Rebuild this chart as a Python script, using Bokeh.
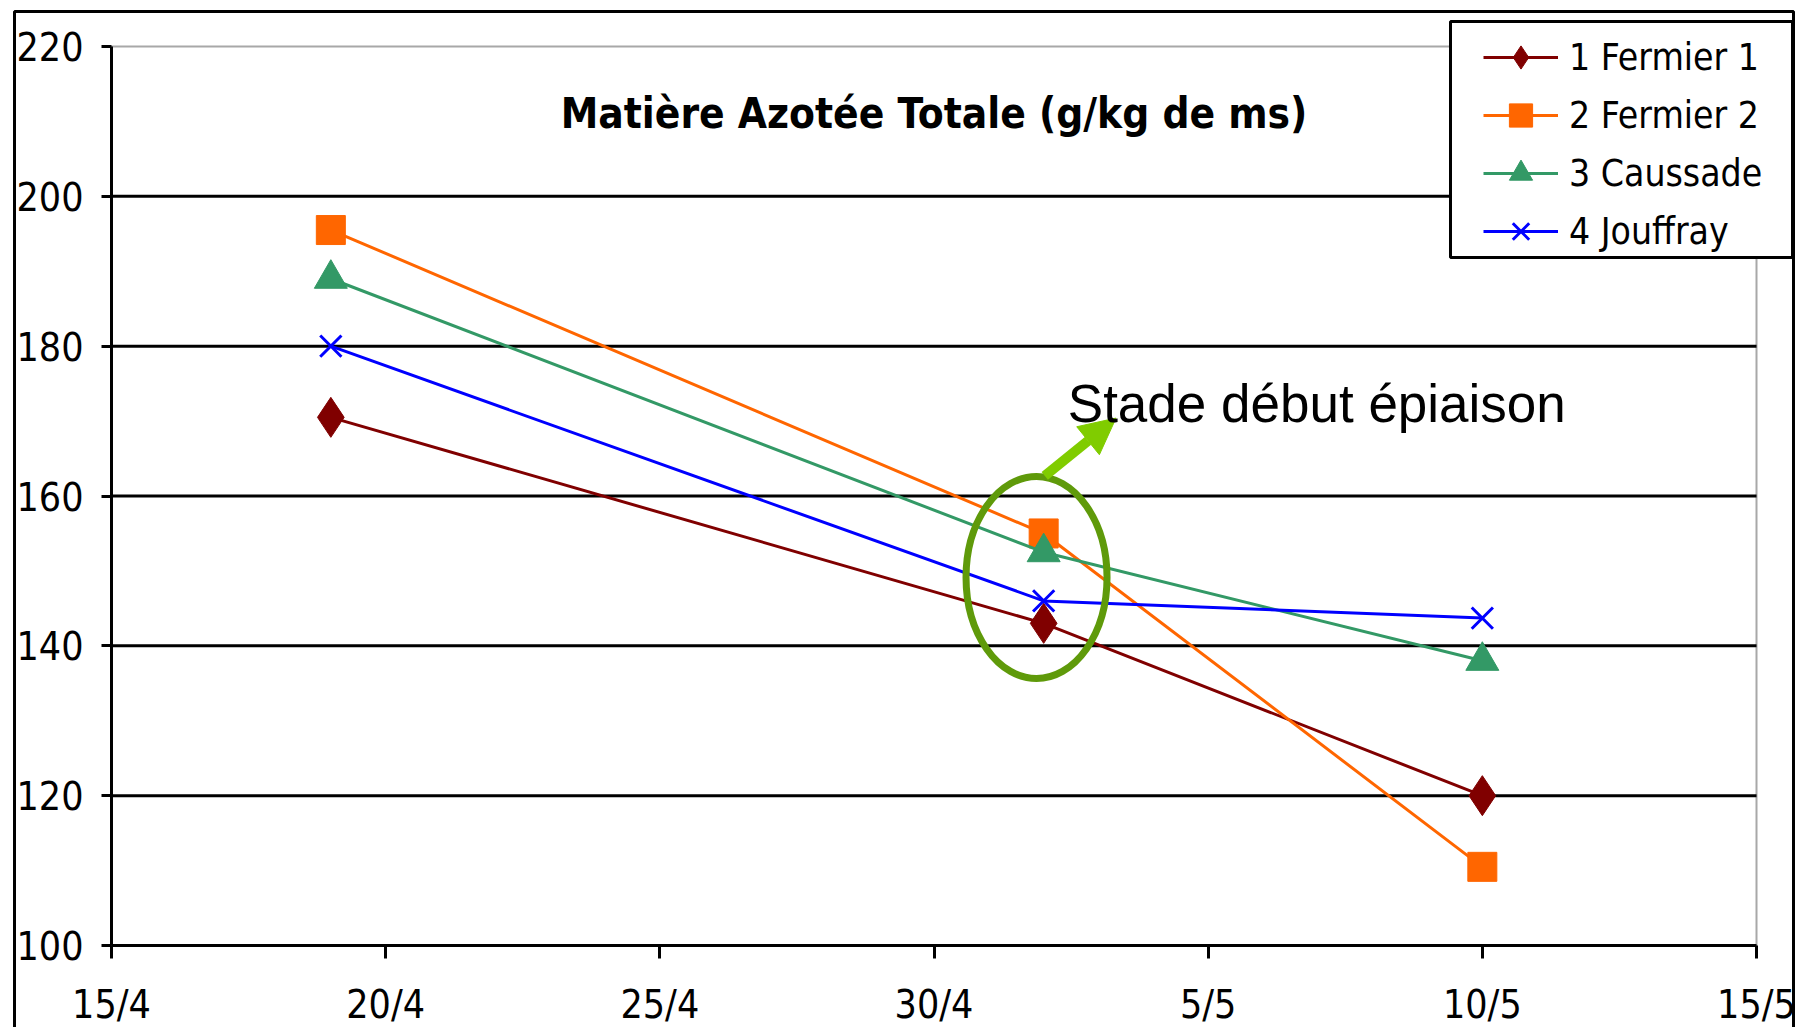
from datetime import date
from bokeh.plotting import figure
from bokeh.models import (FixedTicker, Legend, LegendItem, Label, Arrow,
                          NormalHead, BoxAnnotation, PolyAnnotation)
from bokeh.embed import file_html
from bokeh.resources import INLINE

# ---------------- data ----------------
chart_title = "Matière Azotée Totale (g/kg de ms)"
dates = ["19/4", "2/5", "10/5"]
series_names = ["1 Fermier 1", "2 Fermier 2", "3 Caussade", "4 Jouffray"]
fermier1 = [170.5, 143.0, 120.0]
fermier2 = [195.5, 155.0, 110.5]
caussade = [189.0, 152.5, 138.0]
jouffray = [180.0, 146.0, 143.7]
x_tick_labels = ["15/4", "20/4", "25/4", "30/4", "5/5", "10/5", "15/5"]
y_ticks = [100, 120, 140, 160, 180, 200, 220]
annotation_text = "Stade  début épiaison"


def to_day(s):
    d, m = map(int, s.split("/"))
    return (date(2000, m, d) - date(2000, 4, 15)).days


x = [to_day(s) for s in dates]
x_ticks = [to_day(s) for s in x_tick_labels]

# ---------------- layout (pixels) ----------------
W, H = 1796, 1027
FRAME_L, FRAME_R, FRAME_T, FRAME_B = 111, 1756, 46, 945
x0, x1 = x_ticks[0], x_ticks[-1]
y0, y1 = y_ticks[0], y_ticks[-1]
ppx = (FRAME_R - FRAME_L) / (x1 - x0)
ppy = (FRAME_B - FRAME_T) / (y1 - y0)
xr = (x0 - FRAME_L / ppx, x1 + (W - FRAME_R) / ppx)
yr = (y0 - (H - FRAME_B) / ppy, y1 + FRAME_T / ppy)

FONT = "DejaVu Sans Condensed"
p = figure(width=W, height=H, x_range=xr, y_range=yr,
           output_backend="svg", toolbar_location=None,
           min_border_left=0, min_border_right=0,
           min_border_top=0, min_border_bottom=0)
p.background_fill_color = "white"
p.border_fill_color = "white"
p.outline_line_color = None
p.xgrid.visible = False
p.ygrid.visible = False

# plot-area border (grey, top & right visible)
p.add_layout(BoxAnnotation(left=x0, right=x1, bottom=y0, top=y1,
                           fill_alpha=0, line_color="#a8a8a8", line_alpha=1,
                           line_width=2, level="underlay"))

# horizontal gridlines
grid_y = y_ticks[1:-1]
p.segment(x0=[x0] * len(grid_y), x1=[x1] * len(grid_y), y0=grid_y, y1=grid_y,
          line_color="black", line_width=3)

for ax in (p.xaxis, p.yaxis):
    ax.axis_line_color = "black"
    ax.axis_line_width = 3
    ax.major_tick_line_color = "black"
    ax.major_tick_line_width = 3
    ax.minor_tick_line_color = None
    ax.major_tick_in = 0
    ax.major_label_text_font = FONT
    ax.major_label_text_font_size = "39px"
    ax.major_label_text_color = "black"

p.yaxis.fixed_location = x0
p.yaxis.bounds = (y0, y1)
p.yaxis.ticker = FixedTicker(ticks=y_ticks)
p.yaxis.major_tick_out = 10
p.yaxis.major_label_standoff = 18

p.xaxis.fixed_location = y0
p.xaxis.bounds = (x0, x1)
p.xaxis.ticker = FixedTicker(ticks=x_ticks)
p.xaxis.major_label_overrides = {t: l for t, l in zip(x_ticks, x_tick_labels)}
p.xaxis.major_tick_out = 13
p.xaxis.major_label_standoff = 23

# ---------------- series ----------------
styles = [
    (fermier1, "#800000", "diamond", 40),
    (fermier2, "#FF6600", "square", 29),
    (caussade, "#339966", "triangle", 33),
    (jouffray, "#0000FF", "x", 30),
]
items = []
for name, (vals, color, marker, size) in zip(series_names, styles):
    r1 = p.line(x, vals, line_color=color, line_width=3)
    if marker == "x":
        r2 = p.scatter(x, vals, marker=marker, size=size, line_color=color,
                       line_width=3)
    else:
        r2 = p.scatter(x, vals, marker=marker, size=size, fill_color=color,
                       line_color=color)
    items.append(LegendItem(label=name, renderers=[r1, r2]))

# ---------------- annotations ----------------
mid_x = x[1]
mid_mean = (fermier1[1] + fermier2[1] + caussade[1] + jouffray[1]) / 4
p.ellipse(x=[mid_x - 0.13], y=[mid_mean], width=141, height=202,
          width_units="screen", height_units="screen",
          fill_alpha=0, line_color="#5F9A0A", line_width=7)

p.add_layout(Arrow(end=NormalHead(size=36, fill_color="#80CC00",
                                  line_color="#80CC00"),
                   x_start=mid_x + 0.02, y_start=162.7,
                   x_end=mid_x + 1.32, y_end=170.4,
                   line_color="#80CC00", line_width=10))

p.add_layout(Label(x=mid_x + 0.44, y=172.4, text=annotation_text,
                   text_font="Liberation Sans", text_font_size="53px",
                   text_color="black", text_baseline="alphabetic"))

p.add_layout(Label(x=(x0 + x1) / 2, y=211,
                   text=chart_title, text_font=FONT, text_font_size="42px",
                   text_font_style="bold", text_color="black",
                   text_align="center", text_baseline="middle"))

# outer chart frame (bottom edge lies below the visible page)
p.add_layout(PolyAnnotation(xs=[14, 14, W - 3, W - 3],
                            ys=[H + 60, 11, 11, H + 60],
                            xs_units="canvas", ys_units="canvas",
                            fill_alpha=0, line_color="black", line_alpha=1,
                            line_width=3))

# legend box + legend
LEG_L, LEG_R, LEG_T, LEG_B = 1450, W - 4, 21, 257
p.add_layout(BoxAnnotation(left=LEG_L, right=LEG_R, top=LEG_T, bottom=LEG_B,
                           left_units="canvas", right_units="canvas",
                           top_units="canvas", bottom_units="canvas",
                           fill_color="white", fill_alpha=1,
                           line_color="black", line_alpha=1, line_width=3))
leg_pad, glyph_h = 2, 58
items_top = 24
leg_h = 2 * leg_pad + 4 * glyph_h
legend = Legend(items=items, location=(1483, H - (items_top + leg_h)),
                label_text_font=FONT, label_text_font_size="37px",
                label_text_color="black",
                glyph_width=75, glyph_height=glyph_h, spacing=0,
                padding=leg_pad, label_standoff=11, margin=0,
                border_line_color=None, background_fill_alpha=0)
p.add_layout(legend, "center")

open("out.html", "w").write(file_html(p, INLINE))
